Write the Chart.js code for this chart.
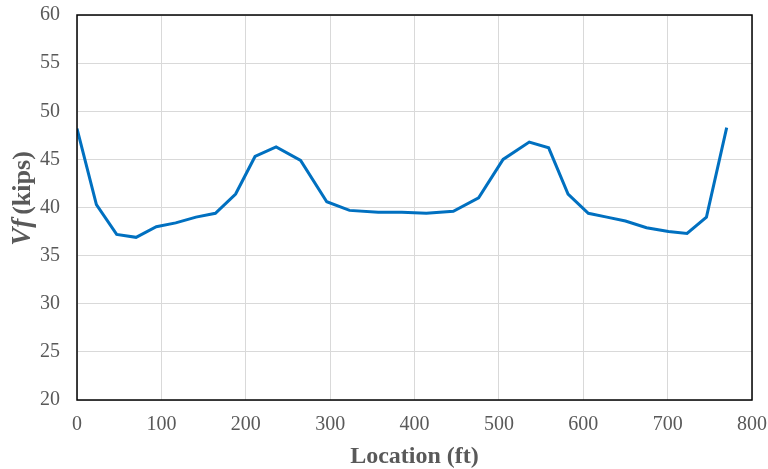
<!DOCTYPE html>
<html>
<head>
<meta charset="utf-8">
<script src="https://cdn.jsdelivr.net/npm/chart.js@4/dist/chart.umd.min.js"></script>
<style>
  html, body { margin: 0; padding: 0; background: #fff; }
  #wrap { width: 768px; height: 469px; }
</style>
</head>
<body>
<div id="wrap"><canvas id="shearChart" width="768" height="469"></canvas></div>
<script>
// Shear force along the girder
const locations = [0, 23, 47, 70, 94, 117, 141, 164, 188, 211, 236, 265, 296, 323, 357, 385,
  414, 446, 476, 505, 536, 559, 582, 606, 628, 650, 675, 701, 723, 746, 770];
const shear = [48.2, 40.3, 37.2, 36.9, 38.0, 38.4, 39.0, 39.4, 41.4, 45.3, 46.3, 44.9, 40.6, 39.7, 39.5, 39.5,
  39.4, 39.6, 41.0, 45.0, 46.8, 46.2, 41.4, 39.4, 39.0, 38.6, 37.9, 37.5, 37.3, 39.0, 48.3];

const xTicks = [0, 100, 200, 300, 400, 500, 600, 700, 800];
const yTicks = [20, 25, 30, 35, 40, 45, 50, 55, 60];

const TEXT = "#595959";
const SERIF = "'Liberation Serif', 'Times New Roman', serif";

// black frame around the plot area
const framePlugin = {
  id: "frame",
  afterDraw(chart) {
    const { ctx, chartArea: a } = chart;
    ctx.save();
    ctx.strokeStyle = "#000";
    ctx.lineWidth = 1.5;
    ctx.strokeRect(a.left, a.top, a.right - a.left, a.bottom - a.top);
    ctx.restore();
  }
};

// y title with italic "Vf"
const yTitlePlugin = {
  id: "yTitle",
  afterDraw(chart) {
    const { ctx, chartArea: a } = chart;
    const italic = "italic bold 27px " + SERIF;
    const plain = "bold 26px " + SERIF;
    ctx.save();
    ctx.fillStyle = TEXT;
    ctx.textBaseline = "middle";
    ctx.font = italic;
    const w1 = ctx.measureText("Vf").width + 4;
    ctx.font = plain;
    const w2 = ctx.measureText("(kips)").width;
    ctx.translate(23, (a.top + a.bottom) / 2 - 9);
    ctx.rotate(-Math.PI / 2);
    let x = -(w1 + w2) / 2;
    ctx.font = italic;
    ctx.fillText("Vf", x, 0);
    ctx.font = plain;
    ctx.fillText("(kips)", x + w1, 0);
    ctx.restore();
  }
};

const ctx = document.getElementById("shearChart").getContext("2d");

new Chart(ctx, {
  type: "line",
  data: {
    datasets: [{
      label: "Vf",
      data: locations.map((x, i) => ({ x, y: shear[i] })),
      borderColor: "#0070c0",
      borderWidth: 3,
      pointRadius: 0,
      tension: 0,
      fill: false
    }]
  },
  options: {
    responsive: false,
    animation: false,
    layout: { padding: { top: 15, right: 16, left: 0, bottom: 0 } },
    plugins: {
      legend: { display: false },
      tooltip: { enabled: false }
    },
    scales: {
      x: {
        type: "linear",
        min: 0,
        max: 800,
        afterBuildTicks: s => { s.ticks = xTicks.map(v => ({ value: v })); },
        afterFit: s => { s.height = 69; s.paddingLeft = 0; s.paddingRight = 0; },
        grid: { color: "#d9d9d9", lineWidth: 1, drawTicks: false },
        border: { display: false },
        ticks: { color: TEXT, padding: 13, font: { family: SERIF, size: 20 } },
        title: {
          display: true,
          text: "Location (ft)",
          color: TEXT,
          padding: { top: 0, bottom: -2 },
          font: { family: SERIF, size: 24, weight: "bold" }
        }
      },
      y: {
        min: 20,
        max: 60,
        afterBuildTicks: s => { s.ticks = yTicks.map(v => ({ value: v })); },
        afterFit: s => { s.width = 77; s.paddingTop = 0; s.paddingBottom = 0; },
        grid: { color: "#d9d9d9", lineWidth: 1, drawTicks: false },
        border: { display: false },
        ticks: { color: TEXT, padding: 17, font: { family: SERIF, size: 20 } }
      }
    }
  },
  plugins: [framePlugin, yTitlePlugin]
});
</script>
</body>
</html>
